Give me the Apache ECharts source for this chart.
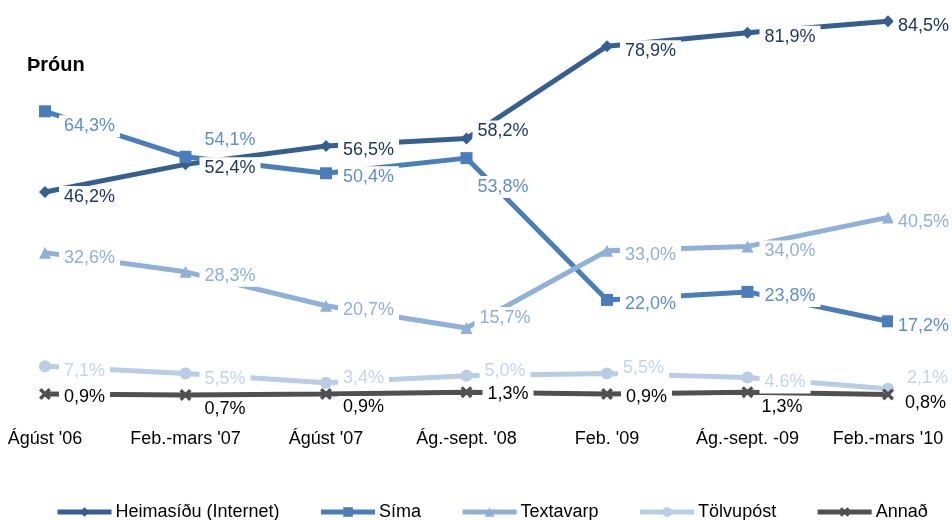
<!DOCTYPE html>
<html>
<head>
<meta charset="utf-8">
<script src="https://cdn.jsdelivr.net/npm/echarts@6/dist/echarts.min.js"></script>
<style>
  html, body { margin: 0; padding: 0; background: #fff; }
  #chart { width: 952px; height: 520px; }
</style>
</head>
<body>
<div id="chart"></div>
<script>
// tímabil
const categories = ['Ágúst \'06', 'Feb.-mars \'07', 'Ágúst \'07', 'Ág.-sept. \'08', 'Feb. \'09', 'Ág.-sept. -09', 'Feb.-mars \'10']

const heimasidu = [46.2, 52.4, 56.5, 58.2, 78.9, 81.9, 84.5]
const sima = [64.3, 54.1, 50.4, 53.8, 22.0, 23.8, 17.2]
const textavarp = [32.6, 28.3, 20.7, 15.7, 33.0, 34.0, 40.5]
const tolvupost = [7.1, 5.5, 3.4, 5.0, 5.5, 4.6, 2.1]
const annad = [0.9, 0.7, 0.9, 1.3, 0.9, 1.3, 0.8]

// label placement: [gap right of point, vertical shift]
const posH = [[19, 3], [19, 2], [17, 2], [11, -9], [18, 3], [17, 2], [10, 3]]
const posS = [[19, 13], [19, -19], [17, 2], [11, 27], [18, 2], [17, 2], [10, 3]]
const posT = [[19, 3], [19, 2], [17, 2], [13, -12], [18, 2], [17, 3], [10, 3]]
const posTo = [[19, 3], [19, 4], [17, -7], [18, -7], [16, -7], [17, 3], [19, -13]]
const posA = [[19, 1], [19, 12], [17, 11], [21, 0], [19, 1], [14, 13], [17, 7]]

const xPath = 'path://M2,0 L5,3 L8,0 L10,2 L7,5 L10,8 L8,10 L5,7 L2,10 L0,8 L3,5 L0,2 Z'

function fmt(v, sep) {
  return v.toFixed(1).replace('.', sep || ',') + '%'
}

function makeSeries(name, values, pos, color, labelColor, symbol, size, sepAt) {
  return {
    name: name,
    type: 'line',
    symbol: symbol,
    symbolSize: size,
    lineStyle: { color: color, width: 5 },
    itemStyle: { color: color },
    data: values.map(function(v, i) {
      return {
        value: v,
        label: {
          offset: [pos[i][0] - size / 2 - 5, pos[i][1] + 2],
          formatter: fmt(v, sepAt === i ? '.' : ',')
        }
      }
    }),
    label: {
      show: true,
      position: 'right',
      distance: 0,
      color: labelColor,
      fontSize: 18,
      fontFamily: 'Liberation Sans, Arial, sans-serif',
      backgroundColor: '#fff',
      padding: [2, 5]
    },
    emphasis: { disabled: true },
    animation: false
  }
}

const myChart = echarts.init(document.getElementById('chart'))

const option = {
  backgroundColor: '#fff',
  title: {
    text: 'Þróun',
    left: 22,
    top: 50,
    textStyle: { fontSize: 20, fontWeight: 'bold', color: '#000', fontFamily: 'Liberation Sans, Arial, sans-serif' }
  },
  legend: {
    top: 498,
    left: 50,
    itemWidth: 54,
    itemHeight: 12,
    itemGap: 39,
    lineStyle: { width: 5 },
    textStyle: { fontSize: 18, color: '#000', padding: [0, 0, 0, -1], fontFamily: 'Liberation Sans, Arial, sans-serif' }
  },
  grid: { left: 45, right: 64, top: 19, bottom: 122 },
  xAxis: {
    type: 'category',
    data: categories,
    boundaryGap: false,
    axisLine: { show: false },
    axisTick: { show: false },
    axisLabel: {
      color: '#000',
      fontSize: 18,
      margin: 32,
      interval: 0,
      fontFamily: 'Liberation Sans, Arial, sans-serif'
    }
  },
  yAxis: {
    type: 'value',
    min: 0,
    max: 85,
    show: false,
    splitLine: { show: false }
  },
  series: [
    makeSeries('Heimasíðu (Internet)', heimasidu, posH, '#365f91', '#1f3864', 'diamond', 12),
    makeSeries('Síma', sima, posS, '#4a7ebb', '#5b8fd2', 'rect', 12),
    makeSeries('Textavarp', textavarp, posT, '#8eb0d9', '#8eb0d9', 'triangle', 12),
    makeSeries('Tölvupóst', tolvupost, posTo, '#b9cde6', '#c3d5ec', 'circle', 12, 5),
    makeSeries('Annað', annad, posA, '#505050', '#000', xPath, 12)
  ]
}

myChart.setOption(option)
</script>
</body>
</html>
